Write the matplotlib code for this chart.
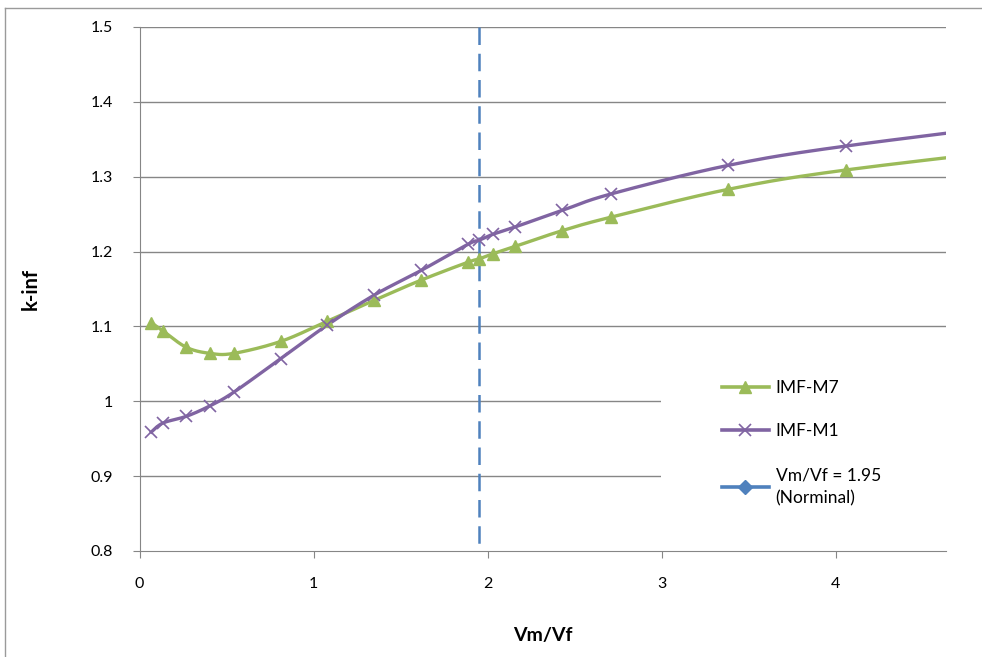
import numpy as np
import matplotlib
matplotlib.use("Agg")
import matplotlib.pyplot as plt
from matplotlib.lines import Line2D
from matplotlib.patches import Rectangle

# values
vm_vf = [0.068, 0.135, 0.27, 0.406, 0.541, 0.812, 1.08, 1.35, 1.62, 1.89,
         1.95, 2.03, 2.16, 2.43, 2.71, 3.38, 4.06, 5.41]
kinf_m7 = [1.105, 1.094, 1.072, 1.064, 1.064, 1.080, 1.107, 1.135, 1.162, 1.186,
           1.190, 1.197, 1.207, 1.228, 1.246, 1.283, 1.309, 1.346]
kinf_m1 = [0.959, 0.971, 0.980, 0.994, 1.012, 1.057, 1.102, 1.142, 1.175, 1.210,
           1.215, 1.223, 1.233, 1.255, 1.277, 1.315, 1.341, 1.380]
nominal = 1.95
y_ticks = [0.8, 0.9, 1.0, 1.1, 1.2, 1.3, 1.4, 1.5]
x_ticks = [0, 1, 2, 3, 4]

green = "#9BBB59"
purple = "#8064A2"
blue = "#4F81BD"
grid_c = "#868686"


def smooth(x, y, n=30):
    # excel style smoothed line (bezier, tension 1/6)
    p = np.column_stack([x, y]).astype(float)
    p = np.vstack([p[0], p, p[-1]])
    t = np.linspace(0, 1, n)[:, None]
    out = []
    for i in range(1, len(p) - 2):
        p0, p1 = p[i], p[i + 1]
        c1 = p0 + (p[i + 1] - p[i - 1]) / 6
        c2 = p1 - (p[i + 2] - p[i]) / 6
        seg = ((1 - t) ** 3) * p0 + 3 * ((1 - t) ** 2) * t * c1 + 3 * (1 - t) * t ** 2 * c2 + t ** 3 * p1
        out.append(seg)
    out = np.vstack(out)
    return out[:, 0], out[:, 1]


plt.rcParams['font.family'] = ['Lato', 'DejaVu Sans']

fig = plt.figure(figsize=(9.82, 6.57), dpi=100)
ax = fig.add_axes([139.5 / 982, 1 - 551 / 657, (946 - 139.5) / 982, (551 - 27) / 657])

# outer chart border
fig.add_artist(Line2D([5 / 982, 5 / 982], [0, 1 - 8 / 657], transform=fig.transFigure, color="#9a9a9a", lw=1))
fig.add_artist(Line2D([5 / 982, 1], [1 - 8 / 657, 1 - 8 / 657], transform=fig.transFigure, color="#9a9a9a", lw=1))

ax.set_xlim(0, 4.635)
ax.set_ylim(0.8, 1.5)
ax.set_yticks(y_ticks)
ax.set_yticklabels(["0.8", "0.9", "1", "1.1", "1.2", "1.3", "1.4", "1.5"])
ax.set_xticks(x_ticks)
for y in y_ticks[1:]:
    ax.axhline(y, color=grid_c, lw=1, zorder=0)

for s in ["top", "right"]:
    ax.spines[s].set_visible(False)
for s in ["left", "bottom"]:
    ax.spines[s].set_color(grid_c)
ax.tick_params(axis="both", colors=grid_c, length=5, labelcolor="black", labelsize=11.5)
ax.tick_params(axis="x", pad=14)
ax.tick_params(axis="y", pad=14)

# legend background covers the gridlines behind it
ax.add_patch(Rectangle((0.647, 0.006), 0.36, 0.40, transform=ax.transAxes,
                       facecolor="white", edgecolor="none", zorder=1, clip_on=False))

sx, sy = smooth(vm_vf, kinf_m7)
ax.plot(sx, sy, color=green, lw=2.4, zorder=3)
ax.plot(vm_vf, kinf_m7, ls="none", marker="^", ms=8, color=green, zorder=4)

sx, sy = smooth(vm_vf, kinf_m1)
ax.plot(sx, sy, color=purple, lw=2.4, zorder=3)
ax.plot(vm_vf, kinf_m1, ls="none", marker="x", ms=8, mew=1.2, color=purple, zorder=4)

ax.plot([nominal, nominal], [1.5, 0.8], color=blue, lw=1.8, dashes=(7, 3.5), zorder=2)

handles = [
    Line2D([], [], color=green, lw=2.6, marker="^", ms=9),
    Line2D([], [], color=purple, lw=2.6, marker="x", ms=9, mew=1.2),
    Line2D([], [], color=blue, lw=2.6, marker="D", ms=7),
]
labels = ["IMF-M7", "IMF-M1", "Vm/Vf = 1.95\n(Norminal)"]
leg = ax.legend(handles, labels, loc="upper left", bbox_to_anchor=(0.722, 0.327),
                frameon=False, fontsize=12.5, handlelength=2.7, labelspacing=1.6,
                handletextpad=0.4, borderpad=0, borderaxespad=0)
for t in leg.get_texts():
    t.set_linespacing(1.55)
leg.set_zorder(5)

ax.set_xlabel("Vm/Vf", fontsize=14, fontweight="bold", labelpad=26)
ax.set_ylabel("k-inf", fontsize=14.5, fontweight="bold", labelpad=36)

fig.savefig("out.png", dpi=100)
